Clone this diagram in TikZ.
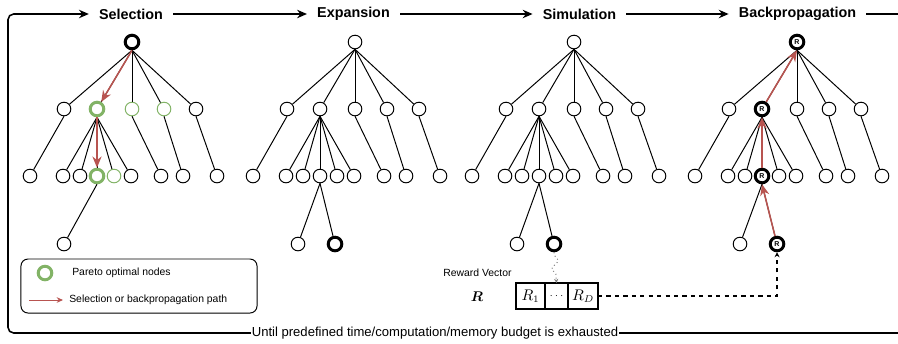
\documentclass[tikz,border=0pt]{standalone}
\usepackage{fontspec}
\usepackage{bm}
\setmainfont{Liberation Sans}
\usetikzlibrary{arrows.meta,positioning,decorations.pathmorphing}
\definecolor{paretogreen}{HTML}{82B366}
\definecolor{pathred}{HTML}{B85450}

\begin{document}
\begin{tikzpicture}[x=0.025cm,y=-0.025cm,
	vertex/.style={circle,draw,line width=0.7pt,minimum size=0.34cm,inner sep=0pt,fill=white},
	heavy/.style={line width=2.1pt},
	pareto/.style={draw=paretogreen,line width=2.1pt},
	optimal/.style={draw=paretogreen},
	tagged/.style={heavy,execute at begin node={\fontsize{5}{5}\selectfont\bfseries R}},
	% special nodes, by tree and name
	s1r/.style={heavy}, s1a2/.style={pareto}, s1a3/.style={optimal}, s1a4/.style={optimal},
	s1b4/.style={pareto}, s1b5/.style={optimal},
	s2c2/.style={heavy}, s3c2/.style={heavy},
	s4r/.style={tagged}, s4a2/.style={tagged}, s4b4/.style={tagged}, s4c2/.style={tagged},
	edge/.style={line width=0.7pt},
	redpath/.style={draw=pathred,line width=1.1pt,-{Stealth[length=8pt,width=6.5pt]}},
	title/.style={font=\fontsize{10.2}{12}\selectfont\bfseries,inner xsep=0.25cm,inner ysep=0pt},
	flow/.style={line width=1.1pt,-{Stealth[length=7pt,width=6pt]}},
	smalltext/.style={font=\fontsize{7.4}{9}\selectfont,inner sep=0pt},
	cell/.style={draw,line width=0.8pt,minimum height=0.65cm,inner sep=0pt,outer sep=0pt,font=\fontsize{10.5}{12}\selectfont}
]
	\useasboundingbox (0,0) rectangle (898,343);

	% the four trees
	\foreach \t/\rx in {1/132,2/355,3/574,4/797}{
		\node[vertex,s\t r/.try] (t\t r) at (\rx,42) {};
		\foreach \n/\dx in {1/-68,2/-35,3/0,4/32,5/64}
			\node[vertex,s\t a\n/.try] (t\t a\n) at (\rx+\dx,109) {};
		\foreach \n/\dx in {1/-102,2/-69,3/-52,4/-35,5/-18,6/-1,7/29,8/51,9/85}
			\node[vertex,s\t b\n/.try] (t\t b\n) at (\rx+\dx,176) {};
		\foreach \n in {1,...,5}
			\draw[edge] (t\t r.south) -- (t\t a\n);
		\draw[edge] (t\t a1.south) -- (t\t b1);
		\foreach \n in {2,...,6}
			\draw[edge] (t\t a2.south) -- (t\t b\n);
		\draw[edge] (t\t a3.south) -- (t\t b7);
		\draw[edge] (t\t a4.south) -- (t\t b8);
		\draw[edge] (t\t a5.south) -- (t\t b9);
	}
	\node[vertex] (t1c1) at (64,244) {};
	\draw[edge] (t1b4.south) -- (t1c1);
	\foreach \t/\rx in {2/355,3/574,4/797}{
		\node[vertex,s\t c1/.try] (t\t c1) at (\rx-57,244) {};
		\node[vertex,s\t c2/.try] (t\t c2) at (\rx-20,244) {};
		\draw[edge] (t\t b4.south) -- (t\t c1);
		\draw[edge] (t\t b4.south) -- (t\t c2);
	}

	% selection and backpropagation paths
	\draw[redpath] (t1r.south) -- (t1a2);
	\draw[redpath] (t1a2.south) -- (t1b4);
	\draw[redpath] (t4c2) -- (t4b4.south);
	\draw[redpath] (t4b4) -- (t4a2.south);
	\draw[redpath] (t4a2) -- (t4r.south);

	% phases and loop
	\node[title] (sel) at (131,14) {Selection};
	\node[title] (exp) at (353.5,14) {Expansion};
	\node[title] (sim) at (579.5,14) {Simulation};
	\node[title] (bp) at (797.5,14) {Backpropagation};
	\node[fill=white,inner sep=0.5pt,font=\fontsize{9.3}{11}\selectfont] (until) at (435,333) {Until predefined time/computation/memory budget is exhausted};
	\coordinate (loopbl) at (8,333);
	\coordinate (looptr) at (898,14);
	\coordinate (loopbr) at (898,333);

	\draw[flow,rounded corners=4pt] (until.west) -- (loopbl) |- (sel.west);
	\draw[flow] (sel) -- (exp);
	\draw[flow] (exp) -- (sim);
	\draw[flow] (sim) -- (bp);
	\draw[line width=1.1pt] (bp) -- (looptr);
	\draw[line width=1.1pt] (until) -- (loopbr);

	% legend
	\node[draw,rounded corners=5pt,line width=0.7pt,minimum width=5.9cm,minimum height=1.35cm] (legend) at (139,286) {};
	\node[vertex,pareto] (lgring) at (45,273) {};
	\node[smalltext,anchor=west] (lgpareto) at (72,273) {Pareto optimal nodes};
	\node[smalltext,anchor=west] (lgpath) at (69,300) {Selection or backpropagation path};
	\coordinate (lgtail) at (29,300);
	\draw[redpath,line width=0.7pt,shorten >=0.15cm,-{Stealth[length=4.5pt,width=4pt]}] (lgtail) -- (lgpath.west);

	% reward vector
	\node[smalltext,anchor=west] (rvlabel) at (443,273) {Reward Vector};
	\node[font=\fontsize{10}{12}\selectfont] (rvec) at (477,297) {$\bm{R}$};
	\node[cell,minimum width=0.725cm] (r1) at (530.5,296) {$R_1$};
	\node[cell,minimum width=0.575cm,right=0pt of r1] (rdots) {\fontsize{7}{7}\selectfont$\cdots$};
	\node[cell,minimum width=0.75cm,right=0pt of rdots] (rd) {$R_D$};

	\draw[gray,dotted,line width=0.7pt,decorate,decoration={snake,amplitude=2.5pt,segment length=12pt,pre length=2pt,post length=4pt},-{Stealth[length=3pt,width=3pt]}] (t3c2.south) -- (rdots.north);
	\draw[dashed,line width=0.8pt,-{Stealth[length=3.5pt,width=3.5pt]}] (rd.east) -| (t4c2.south);
\end{tikzpicture}
\end{document}
